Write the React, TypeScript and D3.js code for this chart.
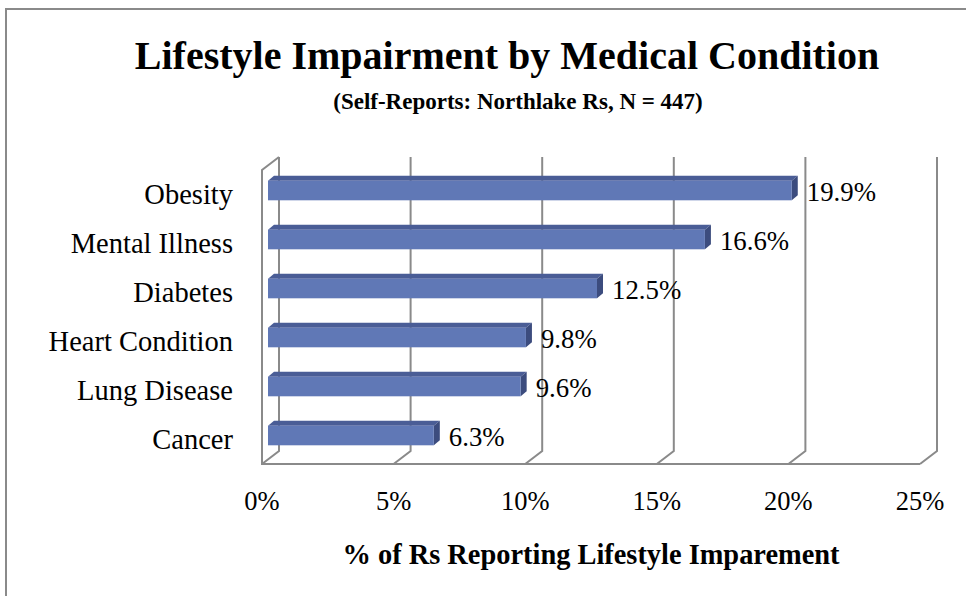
import React from "react";
import * as d3 from "d3";

const categories = ["Obesity", "Mental Illness", "Diabetes", "Heart Condition", "Lung Disease", "Cancer"];
const values = [19.9, 16.6, 12.5, 9.8, 9.6, 6.3];
const ticks = [0, 5, 10, 15, 20, 25];
const title = "Lifestyle Impairment by Medical Condition";
const subtitle = "(Self-Reports: Northlake Rs, N = 447)";
const axisTitle = "% of Rs Reporting Lifestyle Imparement";

const W = 966;
const H = 596;
const FONT = "'Liberation Serif', 'Times New Roman', serif";
const GRID = "#8a8a8a";
const DX = 17;
const DY = -13;
const BDX = 6;
const BDY = -5;

export default function App() {
  const xFront = d3.scaleLinear().domain([0, 25]).range([262, 920]);
  const xBar = d3.scaleLinear().domain([0, 25]).range([268, 926]);
  const yFront = d3.scaleBand<string>().domain(categories).range([170, 464]);
  const yBar = d3
    .scaleBand<string>()
    .domain(categories)
    .range([166, 460])
    .paddingInner(0.6)
    .paddingOuter(0.3);
  const top = yFront.range()[0];
  const bottom = yFront.range()[1];

  return (
    <svg
      width={W}
      height={H}
      style={{ position: "absolute", left: 0, top: 0, background: "#fff" }}
      fontFamily={FONT}
    >
      <rect x={6} y={9} width={1200} height={1200} fill="#fff" stroke={GRID} strokeWidth={2} />
      <text x={507} y={69} textAnchor="middle" fontSize={40} fontWeight="bold">
        {title}
      </text>
      <text x={518} y={109} textAnchor="middle" fontSize={23} fontWeight="bold">
        {subtitle}
      </text>

      {/* walls & gridlines */}
      <g fill="none" stroke={GRID} strokeWidth={2}>
        {ticks.map((t) => (
          <polyline
            key={t}
            points={`${xFront(t) + DX},${top + DY} ${xFront(t) + DX},${bottom + DY} ${xFront(t)},${bottom}`}
          />
        ))}
        <polyline points={`${xFront(0) + DX},${top + DY} ${xFront(0)},${top} ${xFront(0)},${bottom} ${xFront(25)},${bottom}`} />
      </g>

      {/* bars */}
      {categories.map((c, i) => {
        const x0 = xBar(0);
        const x1 = xBar(values[i]);
        const y = yBar(c)!;
        const h = yBar.bandwidth();
        return (
          <g key={c}>
            <polygon
              points={`${x0},${y} ${x1},${y} ${x1 + BDX},${y + BDY} ${x0 + BDX},${y + BDY}`}
              fill="#4a5d96"
            />
            <polygon
              points={`${x1},${y} ${x1 + BDX},${y + BDY} ${x1 + BDX},${y + h + BDY} ${x1},${y + h}`}
              fill="#3c4c7e"
            />
            <rect x={x0} y={y} width={x1 - x0} height={h} fill="#6078b6" />
            <text x={x1 + 15} y={y + h / 2 + 10} fontSize={26.8}>
              {values[i].toFixed(1)}%
            </text>
          </g>
        );
      })}

      {/* category labels */}
      {categories.map((c) => (
        <text key={c} x={233} y={yFront(c)! + yFront.bandwidth() / 2 + 9} textAnchor="end" fontSize={28.5}>
          {c}
        </text>
      ))}

      {/* tick labels */}
      {ticks.map((t) => (
        <text key={t} x={xFront(t)} y={510} textAnchor="middle" fontSize={26.5}>
          {t}%
        </text>
      ))}

      <text x={591} y={564} textAnchor="middle" fontSize={28.4} fontWeight="bold">
        {axisTitle}
      </text>
    </svg>
  );
}
